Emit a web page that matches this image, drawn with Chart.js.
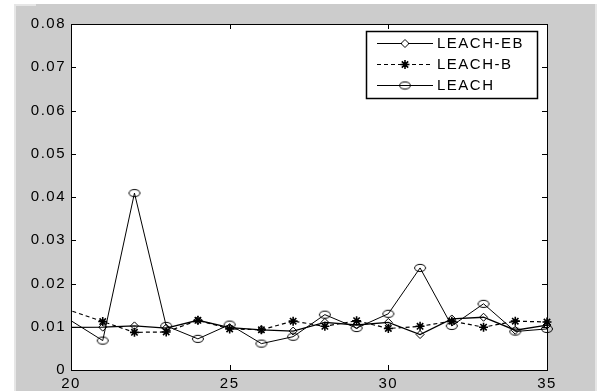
<!DOCTYPE html>
<html>
<head>
<meta charset="utf-8">
<script src="https://cdn.jsdelivr.net/npm/chart.js@4/dist/chart.umd.min.js"></script>
<style>
  html, body { margin: 0; padding: 0; background: #ffffff; }
  #chart { display: block; }
</style>
</head>
<body>
<canvas id="chart" width="603" height="392"></canvas>
<script>
// x positions (19 lies just outside the axis, only the line enters from it)
const xValues = [19, 21, 22, 23, 24, 25, 26, 27, 28, 29, 30, 31, 32, 33, 34, 35];
const leachEB = [0.0098, 0.0099, 0.0102, 0.0097, 0.0115, 0.0098, 0.0093, 0.0090, 0.0110, 0.0104, 0.0110, 0.0082, 0.0118, 0.0122, 0.0092, 0.0104];
const leachB  = [0.0162, 0.0112, 0.0087, 0.0088, 0.0115, 0.0095, 0.0093, 0.0113, 0.0101, 0.0114, 0.0096, 0.0101, 0.0113, 0.0099, 0.0113, 0.0111];
const leach   = [0.0160, 0.0068, 0.0409, 0.0102, 0.0072, 0.0105, 0.0061, 0.0077, 0.0128, 0.0097, 0.0130, 0.0236, 0.0102, 0.0153, 0.0089, 0.0095];
const seriesNames = ['LEACH-EB', 'LEACH-B', 'LEACH'];
const xTicks = [20, 25, 30, 35];
const yTicks = [0, 0.01, 0.02, 0.03, 0.04, 0.05, 0.06, 0.07, 0.08];

const FONT = "Arial, 'Liberation Sans', sans-serif";

// hollow ellipse marker (the circles look squashed in the picture)
function makeEllipse() {
  const c = document.createElement('canvas');
  c.width = 14; c.height = 10;
  const g = c.getContext('2d');
  g.strokeStyle = '#000';
  g.lineWidth = 1;
  g.beginPath();
  g.ellipse(7, 5, 5.5, 3.6, 0, 0, Math.PI * 2);
  g.stroke();
  return c;
}
const ellipseMarker = makeEllipse();

function toPoints(ys) {
  return xValues.map((x, i) => ({ x: x, y: ys[i] }));
}

const clipBox = { left: 0, top: 10, right: 10, bottom: 10 };

const datasets = [
  {
    label: seriesNames[0],
    data: toPoints(leachEB),
    borderColor: '#000',
    borderWidth: 1.3,
    pointStyle: 'rectRot',
    pointRadius: 4,
    pointBorderWidth: 1,
    pointBorderColor: '#000',
    pointBackgroundColor: 'rgba(0,0,0,0)',
    clip: clipBox
  },
  {
    label: seriesNames[1],
    data: toPoints(leachB),
    borderColor: '#000',
    borderWidth: 1.2,
    borderDash: [4, 3],
    pointStyle: 'star',
    pointRadius: 4.5,
    pointBorderWidth: 1.6,
    pointBorderColor: '#000',
    pointBackgroundColor: '#000',
    clip: clipBox
  },
  {
    label: seriesNames[2],
    data: toPoints(leach),
    borderColor: '#000',
    borderWidth: 1,
    pointStyle: ellipseMarker,
    pointRadius: 5,
    clip: clipBox
  }
];

const matlabFrame = {
  id: 'matlabFrame',
  beforeDraw(chart) {
    const ctx = chart.ctx;
    const a = chart.chartArea;
    ctx.save();
    ctx.fillStyle = '#ffffff';
    ctx.fillRect(0, 0, chart.width, chart.height);
    ctx.fillStyle = '#cccccc';
    ctx.fillRect(14, 4, 583, 387);
    // light bevel edges
    ctx.fillStyle = '#e6e6e6';
    ctx.fillRect(14, 4, 2, 387);
    ctx.fillRect(14, 4, 22, 2);
    ctx.fillRect(595, 4, 2, 387);
    ctx.fillStyle = '#ffffff';
    ctx.fillRect(a.left, a.top, a.right - a.left, a.bottom - a.top);
    ctx.restore();
    ctx.letterSpacing = '1.5px';
  },
  afterDraw(chart) {
    const ctx = chart.ctx;
    const a = chart.chartArea;
    const xs = chart.scales.x;
    const ys = chart.scales.y;
    ctx.save();
    ctx.strokeStyle = '#000';
    ctx.lineWidth = 1;
    ctx.strokeRect(a.left + 0.5, a.top + 0.5, a.right - a.left, a.bottom - a.top);
    // inward ticks on all four sides
    ctx.beginPath();
    xTicks.forEach(v => {
      const px = Math.round(xs.getPixelForValue(v)) + 0.5;
      ctx.moveTo(px, a.bottom); ctx.lineTo(px, a.bottom - 5);
      ctx.moveTo(px, a.top); ctx.lineTo(px, a.top + 5);
    });
    yTicks.forEach(v => {
      const py = Math.round(ys.getPixelForValue(v)) + 0.5;
      ctx.moveTo(a.left, py); ctx.lineTo(a.left + 5, py);
      ctx.moveTo(a.right, py); ctx.lineTo(a.right - 5, py);
    });
    ctx.stroke();

    // legend box
    const bx = 366, by = 31, bw = 171, bh = 67;
    ctx.fillStyle = '#ffffff';
    ctx.fillRect(bx, by, bw, bh);
    ctx.lineWidth = 1.5;
    ctx.strokeRect(bx + 0.5, by + 0.5, bw, bh);
    const rows = [43, 64, 85];
    ctx.font = '15px ' + FONT;
    ctx.letterSpacing = '1.5px';
    ctx.textBaseline = 'middle';
    chart.data.datasets.forEach((ds, i) => {
      const y = rows[i] + 0.5;
      ctx.save();
      ctx.strokeStyle = '#000';
      ctx.lineWidth = 1;
      ctx.setLineDash(ds.borderDash || []);
      ctx.beginPath();
      ctx.moveTo(377, y); ctx.lineTo(433, y);
      ctx.stroke();
      ctx.setLineDash([]);
      const mx = 405;
      ctx.fillStyle = '#ffffff';
      if (ds.pointStyle === 'rectRot') {
        ctx.fillRect(mx - 3, y - 3, 6, 6);
      }
      ctx.strokeStyle = '#000';
      ctx.fillStyle = ds.pointBackgroundColor || 'rgba(0,0,0,0)';
      ctx.lineWidth = ds.pointBorderWidth || 1;
      Chart.helpers.drawPoint(ctx, {
        pointStyle: ds.pointStyle,
        radius: ds.pointRadius,
        rotation: 0,
        borderWidth: ds.pointBorderWidth || 1
      }, mx, y);
      ctx.restore();
      ctx.fillStyle = '#000';
      ctx.fillText(ds.label, 437, rows[i] + 1);
    });
    ctx.restore();
  }
};

new Chart(document.getElementById('chart'), {
  type: 'line',
  data: { datasets: datasets },
  options: {
    responsive: false,
    animation: false,
    devicePixelRatio: 1,
    layout: { padding: { left: 0, top: 24, right: 56, bottom: 0 } },
    plugins: {
      legend: { display: false },
      tooltip: { enabled: false }
    },
    scales: {
      x: {
        type: 'linear',
        min: 20,
        max: 35,
        afterBuildTicks: s => { s.ticks = xTicks.map(v => ({ value: v })); },
        afterFit: s => { s.height = 22; },
        grid: { display: false, drawTicks: false },
        border: { display: false },
        ticks: {
          color: '#000',
          font: { size: 15, family: FONT },
          padding: 5,
          maxRotation: 0,
          callback: v => String(v)
        }
      },
      y: {
        min: 0,
        max: 0.08,
        afterBuildTicks: s => { s.ticks = yTicks.map(v => ({ value: v })); },
        afterFit: s => { s.width = 71; },
        grid: { display: false, drawTicks: false },
        border: { display: false },
        ticks: {
          color: '#000',
          font: { size: 15, family: FONT },
          padding: 5,
          callback: v => (v === 0 ? '0' : Number(v).toFixed(2))
        }
      }
    }
  },
  plugins: [matlabFrame]
});
</script>
</body>
</html>
